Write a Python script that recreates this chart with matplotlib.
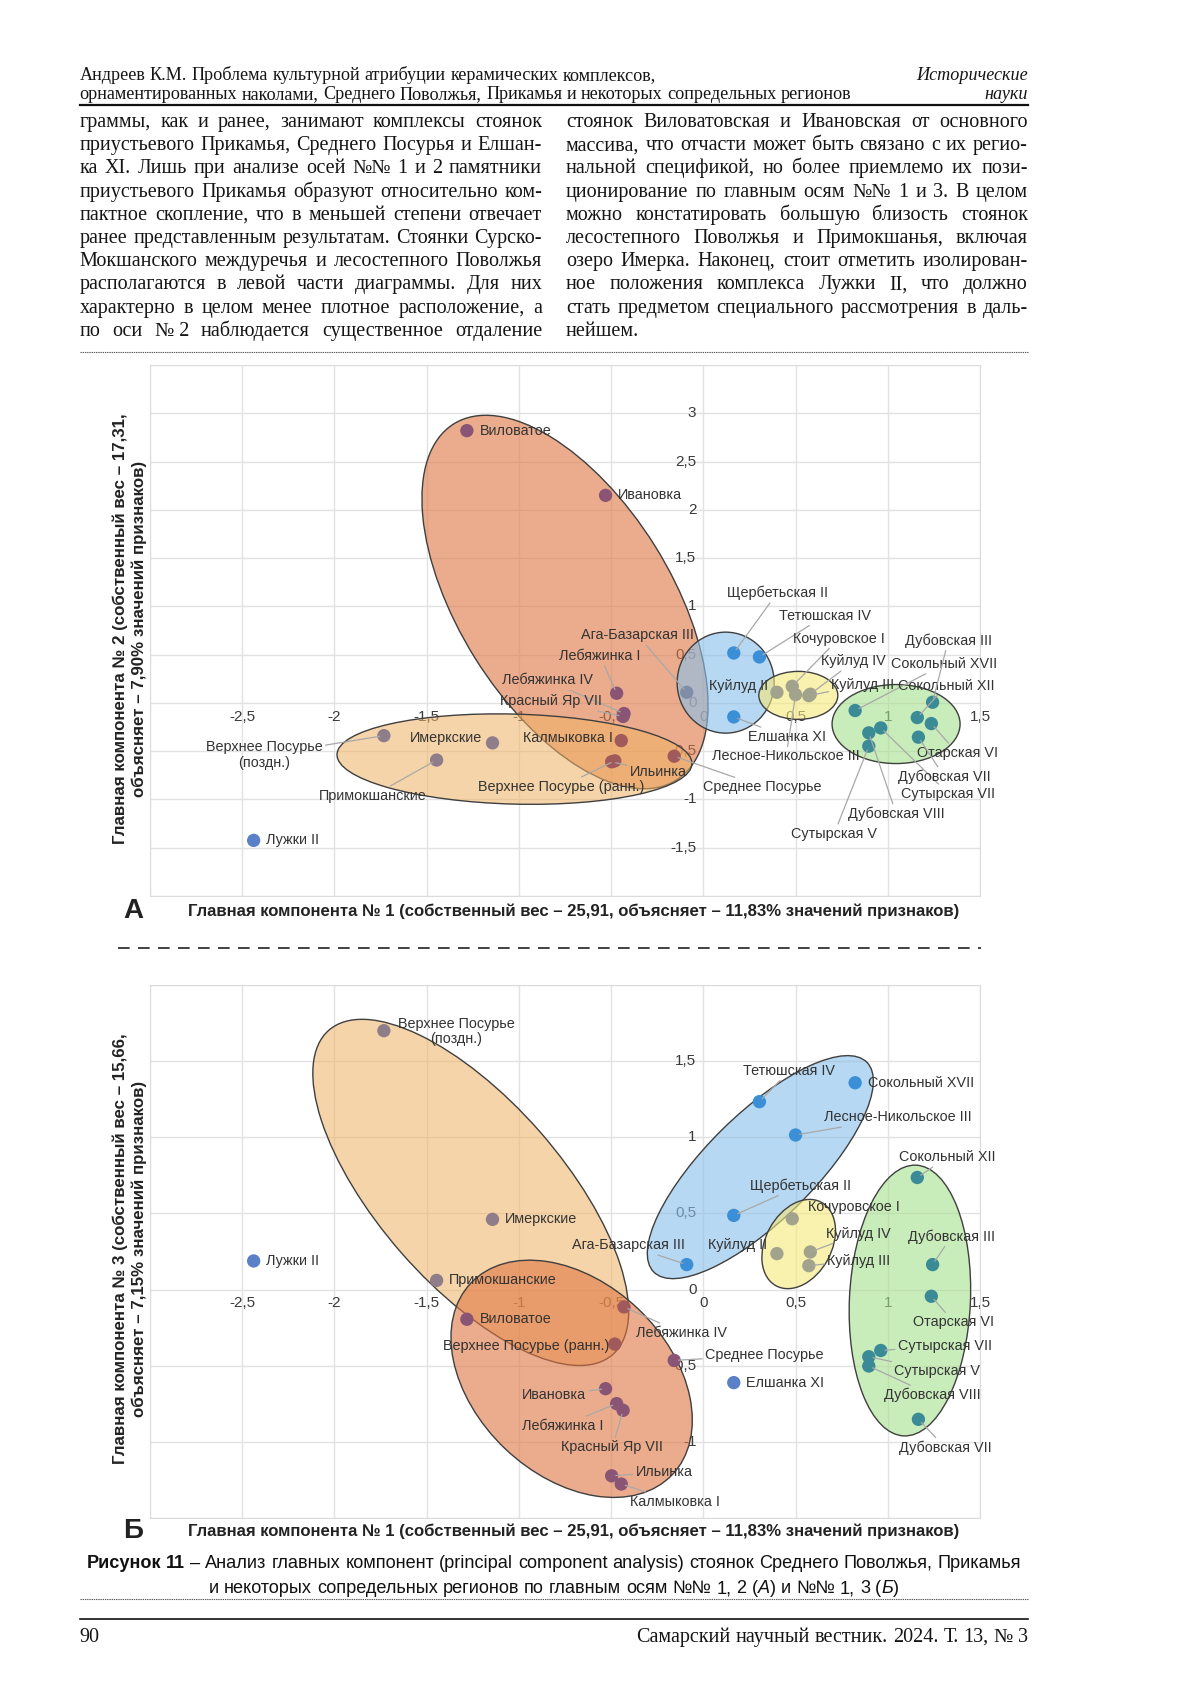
import matplotlib
matplotlib.use('Agg')
import matplotlib.pyplot as plt
import matplotlib.transforms as mtransforms
import matplotlib.colors as mcolors
from matplotlib.patches import Ellipse
from matplotlib.lines import Line2D
from matplotlib import font_manager
import numpy as np

W, H = 1200, 1697

# ---- data: PCA scores of the sites ----
sites = ['Виловатое', 'Ивановка', 'Лебяжинка I', 'Лебяжинка IV', 'Красный Яр VII',
         'Калмыковка I', 'Ильинка', 'Верхнее Посурье (ранн.)', 'Среднее Посурье',
         'Имеркские', 'Верхнее Посурье (поздн.)', 'Примокшанские', 'Лужки II',
         'Ага-Базарская III', 'Щербетьская II', 'Тетюшская IV', 'Елшанка XI',
         'Сокольный XVII', 'Лесное-Никольское III', 'Куйлуд II', 'Кочуровское I',
         'Куйлуд IV', 'Куйлуд III', 'Сокольный XII', 'Дубовская III', 'Отарская VI',
         'Сутырская VII', 'Сутырская V', 'Дубовская VIII', 'Дубовская VII']
pc1 = [-1.282, -0.530, -0.470, -0.430, -0.435, -0.445, -0.497, -0.480, -0.158,
       -1.143, -1.732, -1.446, -2.438, -0.090, 0.165, 0.304, 0.165,
       0.823, 0.500, 0.399, 0.482, 0.580, 0.572, 1.160, 1.243, 1.236,
       0.962, 0.897, 0.897, 1.166]
pc2 = [2.82, 2.15, 0.10, -0.11, -0.14, -0.39, -0.61, -0.60, -0.552,
       -0.414, -0.339, -0.592, -1.424, 0.11, 0.517, 0.476, -0.145,
       -0.079, 0.086, 0.11, 0.172, 0.09, 0.075, -0.152, 0.007, -0.214,
       -0.259, -0.448, -0.31, -0.355]
pc3 = [-0.195, -0.651, -0.749, -0.114, -0.793, -1.277, -1.223, -0.358, -0.465,
       0.461, 1.70, 0.06, 0.188, 0.164, 0.487, 1.234, -0.611,
       1.358, 1.015, 0.236, 0.465, 0.247, 0.157, 0.736, 0.164, -0.044,
       -0.40, -0.441, -0.502, -0.852]

x_ticks = [-2.5, -2, -1.5, -1, -0.5, 0, 0.5, 1, 1.5]
y_ticks_a = [-1.5, -1, -0.5, 0, 0.5, 1, 1.5, 2, 2.5, 3]
y_ticks_b = [-1, -0.5, 0, 0.5, 1, 1.5]

x_title = 'Главная компонента № 1 (собственный вес – 25,91, объясняет – 11,83% значений признаков)'
y_title_a = ['Главная компонента № 2 (собственный вес – 17,31,', 'объясняет – 7,90% значений признаков)']
y_title_b = ['Главная компонента № 3 (собственный вес – 15,66,', 'объясняет – 7,15% значений признаков)']

header = ['Андреев К.М. Проблема культурной атрибуции керамических комплексов,',
          'орнаментированных наколами, Среднего Поволжья, Прикамья и некоторых сопредельных регионов']
header_right = ['Исторические', 'науки']

left_col = ['граммы, как и ранее, занимают комплексы стоянок',
            'приустьевого Прикамья, Среднего Посурья и Елшан-',
            'ка XI. Лишь при анализе осей №№ 1 и 2 памятники',
            'приустьевого Прикамья образуют относительно ком-',
            'пактное скопление, что в меньшей степени отвечает',
            'ранее представленным результатам. Стоянки Сурско-',
            'Мокшанского междуречья и лесостепного Поволжья',
            'располагаются в левой части диаграммы. Для них',
            'характерно в целом менее плотное расположение, а',
            'по оси №\u00a02 наблюдается существенное отдаление']
right_col = ['стоянок Виловатовская и Ивановская от основного',
             'массива, что отчасти может быть связано с их регио-',
             'нальной спецификой, но более приемлемо их пози-',
             'ционирование по главным осям №№ 1 и 3. В целом',
             'можно констатировать большую близость стоянок',
             'лесостепного Поволжья и Примокшанья, включая',
             'озеро Имерка. Наконец, стоит отметить изолирован-',
             'ное положения комплекса Лужки II, что должно',
             'стать предметом специального рассмотрения в даль-',
             'нейшем.']

caption = [[('Рисунок 11 ', 'b'),
            ('– Анализ главных компонент (principal component analysis) стоянок Среднего Поволжья, Прикамья', 'n')],
           [('и некоторых сопредельных регионов по главным осям №№ 1, 2 (', 'n'), ('А', 'i'),
            (') и №№ 1, 3 (', 'n'), ('Б', 'i'), (')', 'n')]]
footer = ['90', 'Самарский научный вестник. 2024. Т. 13, № 3']

# ---- label placement (data coords of text, alignment, leader line) ----
labels_a = {
    'Имеркские': (-1.20, -0.367, 'right', False),
    'Верхнее Посурье (поздн.)': (-2.38, -0.54, 'center', True),
    'Примокшанские': (-1.79, -0.96, 'center', True),
    'Ага-Базарская III': (-0.05, 0.70, 'right', True),
    'Лебяжинка I': (-0.34, 0.49, 'right', True),
    'Лебяжинка IV': (-0.60, 0.233, 'right', True),
    'Красный Яр VII': (-0.55, 0.016, 'right', True),
    'Калмыковка I': (-0.49, -0.36, 'right', False),
    'Верхнее Посурье (ранн.)': (-0.77, -0.868, 'center', True),
    'Ильинка': (-0.40, -0.72, 'left', True),
    'Среднее Посурье': (0.0, -0.872, 'left', True),
    'Щербетьская II': (0.40, 1.138, 'center', True),
    'Тетюшская IV': (0.41, 0.903, 'left', True),
    'Кочуровское I': (0.486, 0.666, 'left', True),
    'Куйлуд IV': (0.64, 0.431, 'left', True),
    'Куйлуд III': (0.694, 0.19, 'left', True),
    'Куйлуд II': (0.35, 0.179, 'right', False),
    'Елшанка XI': (0.241, -0.352, 'left', True),
    'Лесное-Никольское III': (0.449, -0.552, 'center', True),
    'Дубовская III': (1.092, 0.645, 'left', True),
    'Сокольный XVII': (1.02, 0.403, 'left', True),
    'Сокольный XII': (1.056, 0.179, 'left', True),
    'Отарская VI': (1.156, -0.517, 'left', True),
    'Дубовская VII': (1.056, -0.766, 'left', True),
    'Сутырская VII': (1.074, -0.941, 'left', True),
    'Дубовская VIII': (0.784, -1.148, 'left', True),
    'Сутырская V': (0.476, -1.355, 'left', True),
}
labels_b = {
    'Верхнее Посурье (поздн.)': (-1.338, 1.697, 'center', False),
    'Верхнее Посурье (ранн.)': (-0.51, -0.371, 'right', False),
    'Лебяжинка IV': (-0.366, -0.284, 'left', True),
    'Среднее Посурье': (0.009, -0.432, 'left', True),
    'Ивановка': (-0.634, -0.694, 'right', True),
    'Лебяжинка I': (-0.543, -0.895, 'right', True),
    'Красный Яр VII': (-0.493, -1.037, 'center', True),
    'Ильинка': (-0.366, -1.20, 'left', True),
    'Калмыковка I': (-0.395, -1.393, 'left', True),
    'Ага-Базарская III': (-0.10, 0.29, 'right', True),
    'Тетюшская IV': (0.467, 1.437, 'center', True),
    'Лесное-Никольское III': (0.656, 1.131, 'left', True),
    'Щербетьская II': (0.254, 0.683, 'left', True),
    'Куйлуд II': (0.344, 0.29, 'right', False),
    'Кочуровское I': (0.565, 0.541, 'left', False),
    'Куйлуд IV': (0.667, 0.367, 'left', True),
    'Куйлуд III': (0.67, 0.19, 'left', True),
    'Сокольный XII': (1.06, 0.869, 'left', True),
    'Дубовская III': (1.11, 0.349, 'left', True),
    'Отарская VI': (1.138, -0.214, 'left', True),
    'Сутырская VII': (1.054, -0.371, 'left', True),
    'Сутырская V': (1.036, -0.537, 'left', True),
    'Дубовская VIII': (0.978, -0.694, 'left', True),
    'Дубовская VII': (1.06, -1.037, 'left', True),
}

# cluster ovals: centre in data units, width/height in pixels, angle in degrees
ovals_a = [('orange', -0.75, 1.045, 420, 212, -58),
           ('peach', -1.024, -0.582, 355, 90, -1.5),
           ('blue', 0.121, 0.21, 97, 101, 0),
           ('yellow', 0.515, 0.078, 79, 48, 0),
           ('green', 1.045, -0.219, 128, 79, 0)]
ovals_b = [('peach', -1.261, 0.638, 431, 184, -48.8),
           ('orange', -0.714, -0.586, 278, 193, -43.6),
           ('blue', 0.309, 0.804, 299, 107, 44.5),
           ('yellow', 0.517, 0.299, 95, 66, 61.5),
           ('green', 1.12, -0.072, 271, 121, 87.4)]

fills = {'orange': ('#DF7642', 0.6), 'peach': ('#F0B263', 0.55), 'blue': ('#8CC0EA', 0.62),
         'yellow': ('#F5E878', 0.6), 'green': ('#A6E08E', 0.6)}
dot_colors = {(): '#5a80c8', ('orange',): '#8a5574', ('peach',): '#8f7e8a',
              ('blue',): '#3b8fd6', ('yellow',): '#a2a38c', ('green',): '#3a8b96',
              ('orange', 'peach'): '#a05a5c', ('blue', 'orange'): '#7f8ea6'}


def has_font(name):
    try:
        font_manager.findfont(font_manager.FontProperties(family=name), fallback_to_default=False)
        return True
    except Exception:
        return False


SERIF = 'Liberation Serif'
SANS = 'Liberation Sans'
NARROW = 'Liberation Sans Narrow' if has_font('Liberation Sans Narrow') else SANS

fig = plt.figure(figsize=(W / 100, H / 100), dpi=100)
rend = fig.canvas.get_renderer()


def fx(px):
    return px / W


def fy(py):
    return 1 - py / H


def width(s, size, **kw):
    t = fig.text(0, 0, s, fontsize=size, **kw)
    w = t.get_window_extent(rend).width
    t.remove()
    return w


def tokens(runs):
    out = []
    for text, st in runs:
        if text.startswith(' ') and out:
            out[-1][2] = True
        parts = text.strip(' ').split(' ')
        for i, w in enumerate(parts):
            out.append([w, st, i < len(parts) - 1 or text.endswith(' ')])
    return out


def natural(toks, size, styles, gap=1.0):
    sp = width('н н', size, **styles['n']) - width('нн', size, **styles['n'])
    ws = [width(w, size, **styles[st]) for w, st, g in toks]
    return sum(ws) + gap * sp * sum(1 for t in toks[:-1] if t[2])


def place(toks, x0, x1, yb, size, align, styles):
    sp = width('н н', size, **styles['n']) - width('нн', size, **styles['n'])
    ws = [width(w, size, **styles[st]) for w, st, g in toks]
    ngaps = sum(1 for t in toks[:-1] if t[2])
    nat = sum(ws) + sp * ngaps
    if align == 'justify' and ngaps:
        sp = (x1 - x0 - sum(ws)) / ngaps
        x = x0
    elif align == 'center':
        x = (x0 + x1) / 2 - nat / 2
    elif align == 'right':
        x = x1 - nat
    else:
        x = x0
    for (w, st, g), wd in zip(toks, ws):
        fig.text(fx(x), fy(yb), w, fontsize=size, ha='left', va='baseline', **styles[st])
        x += wd + (sp if g else 0)


serif = {'n': dict(family=SERIF, color='#151515'), 'i': dict(family=SERIF, style='italic', color='#151515')}
sans = {'n': dict(family=NARROW, color='#111111'), 'b': dict(family=NARROW, weight='bold', color='#111111'),
        'i': dict(family=NARROW, style='italic', color='#111111')}

# ---- running header ----
s_hdr = 12.0 * 778 / natural(tokens([(header[1], 'n')]), 12.0, serif)
place(tokens([(header[0], 'n')]), 79.6, 1028, 80, s_hdr, 'left', serif)
place(tokens([(header[1], 'n')]), 79.6, 1028, 99, s_hdr, 'left', serif)
place(tokens([(header_right[0], 'i')]), 79.6, 1028, 80, s_hdr, 'right', serif)
place(tokens([(header_right[1], 'i')]), 79.6, 1028, 99, s_hdr, 'right', serif)
fig.add_artist(Line2D([fx(79.6), fx(1028)], [fy(104.5)] * 2, color='#111111', lw=1.6))

# ---- body text in two justified columns ----
base = 14.5
need = max(natural(tokens([(l, 'n')]), base, serif, gap=0.5) for l in left_col + right_col[:-1])
s_body = base * min(1.0, 460 / need)
for i, line in enumerate(left_col):
    place(tokens([(line, 'n')]), 79.6, 542, 127 + 23.2 * i, s_body, 'justify', serif)
for i, line in enumerate(right_col):
    align = 'left' if i == len(right_col) - 1 else 'justify'
    place(tokens([(line, 'n')]), 566, 1028, 127 + 23.2 * i, s_body, align, serif)
fig.add_artist(Line2D([fx(79.6), fx(1028)], [fy(352)] * 2, color='#555555', lw=0.8, ls=(0, (1.2, 0.8))))

# ---- charts ----
tick_kw = dict(fontsize=11, color='#3a3a3a', family=SANS)
lab_kw = dict(fontsize=10.4, color='#333333', family=SANS)
bold_kw = dict(family=NARROW, weight='bold', color='#222222')
s_xt = 11 * 778 / width(x_title, 11, **bold_kw)
s_yt = 11 * 432 / width(y_title_a[0], 11, **bold_kw)


def fmt(v):
    return f'{v:g}'.replace('.', ',')


def oval(ax, key, cx, cy, w, h, ang):
    fc, al = fills[key]
    tr = fig.dpi_scale_trans + mtransforms.ScaledTranslation(cx, cy, ax.transData)
    e = Ellipse((0, 0), w / 100, h / 100, angle=ang, transform=tr,
                facecolor=mcolors.to_rgba(fc, al), edgecolor='#3f3f3f', lw=1.0, zorder=2)
    ax.add_patch(e)
    return e


def panel(top, bottom, ylim, ys, yticks, labels, ovals, ytitle, ytitle_cy, letter, title_cy):
    ax = fig.add_axes([fx(150), fy(bottom), (980 - 150) / W, (bottom - top) / H])
    ax.set_xlim(-3, 1.5)
    ax.set_ylim(*ylim)
    ax.set_xticks(np.arange(-3, 1.51, 0.5))
    ax.set_yticks(np.arange(ylim[0], ylim[1] + 0.01, 0.5))
    ax.grid(True, color='#e2e2e2', lw=1.0)
    ax.set_axisbelow(True)
    ax.tick_params(length=0, labelbottom=False, labelleft=False)
    for sp in ax.spines.values():
        sp.set_color('#dcdcdc')
    for v in x_ticks:
        ax.annotate(fmt(v), (v, 0), xytext=(0, -10), textcoords='offset points',
                    ha='center', va='center', zorder=1.5, **tick_kw)
    for v in yticks:
        ax.annotate(fmt(v), (0, v), xytext=(-5, 0), textcoords='offset points',
                    ha='right', va='center', zorder=1.5, **tick_kw)

    patches = {}
    for key, cx, cy, w, h, ang in ovals:
        patches[key] = oval(ax, key, cx, cy, w, h, ang)

    cols = []
    for x, y in zip(pc1, ys):
        p = ax.transData.transform((x, y))
        inside = tuple(sorted(k for k, e in patches.items() if e.contains_point(p)))
        cols.append(dot_colors.get(inside, dot_colors.get(inside[:1], '#5a80c8')))
    ax.scatter(pc1, ys, s=92, c=cols, linewidths=0, zorder=3)

    for name, x, y in zip(sites, pc1, ys):
        text = name.replace(' (поздн.)', '\n(поздн.)')
        spec = labels.get(name)
        if spec is None:
            ax.annotate(text, (x, y), xytext=(9, 0), textcoords='offset points',
                        ha='left', va='center', zorder=4, **lab_kw)
        else:
            tx, ty, ha, lead = spec
            ap = dict(arrowstyle='-', color='#a8a8a8', lw=0.9, shrinkA=0, shrinkB=3) if lead else None
            ax.annotate(text, (x, y), xytext=(tx, ty), textcoords='data', ha=ha, va='center',
                        multialignment='center', linespacing=1.1, arrowprops=ap, zorder=4, **lab_kw)

    fig.text(fx(574), fy(title_cy), x_title, ha='center', va='center', fontsize=s_xt, **bold_kw)
    fig.text(fx(133), fy(title_cy), letter, ha='center', va='center', fontsize=20,
             family=SANS, weight='bold', color='#222222')
    fig.text(fx(120), fy(ytitle_cy), ytitle[0], rotation=90, ha='center', va='center',
             fontsize=s_yt, **bold_kw)
    fig.text(fx(139), fy(ytitle_cy), ytitle[1], rotation=90, ha='center', va='center',
             fontsize=s_yt, **bold_kw)
    return ax


panel(365, 896, (-2, 3.5), pc2, y_ticks_a, labels_a, ovals_a, y_title_a, 629, 'А', 911)
fig.add_artist(Line2D([fx(118), fx(981)], [fy(948)] * 2, color='#222222', lw=1.2, ls=(0, (7.0, 5.0))))
panel(985, 1518, (-1.5, 2), pc3, y_ticks_b, labels_b, ovals_b, y_title_b, 1249, 'Б', 1531)

# ---- caption and footer ----
cap_toks = [tokens(r) for r in caption]
s_cap = 12.0 * 940 / natural(cap_toks[0], 12.0, sans)
place(cap_toks[0], 79.6, 1028, 1568, s_cap, 'center', sans)
place(cap_toks[1], 79.6, 1028, 1593, s_cap, 'center', sans)
fig.add_artist(Line2D([fx(79.6), fx(1028)], [fy(1599)] * 2, color='#555555', lw=0.8, ls=(0, (1.2, 0.8))))
fig.add_artist(Line2D([fx(79.6), fx(1028)], [fy(1618.5)] * 2, color='#111111', lw=1.2))
place(tokens([(footer[0], 'n')]), 79.6, 1028, 1642, s_body, 'left', serif)
place(tokens([(footer[1], 'n')]), 79.6, 1028, 1642, s_body, 'right', serif)

fig.savefig('out.png', dpi=100, facecolor='white')
